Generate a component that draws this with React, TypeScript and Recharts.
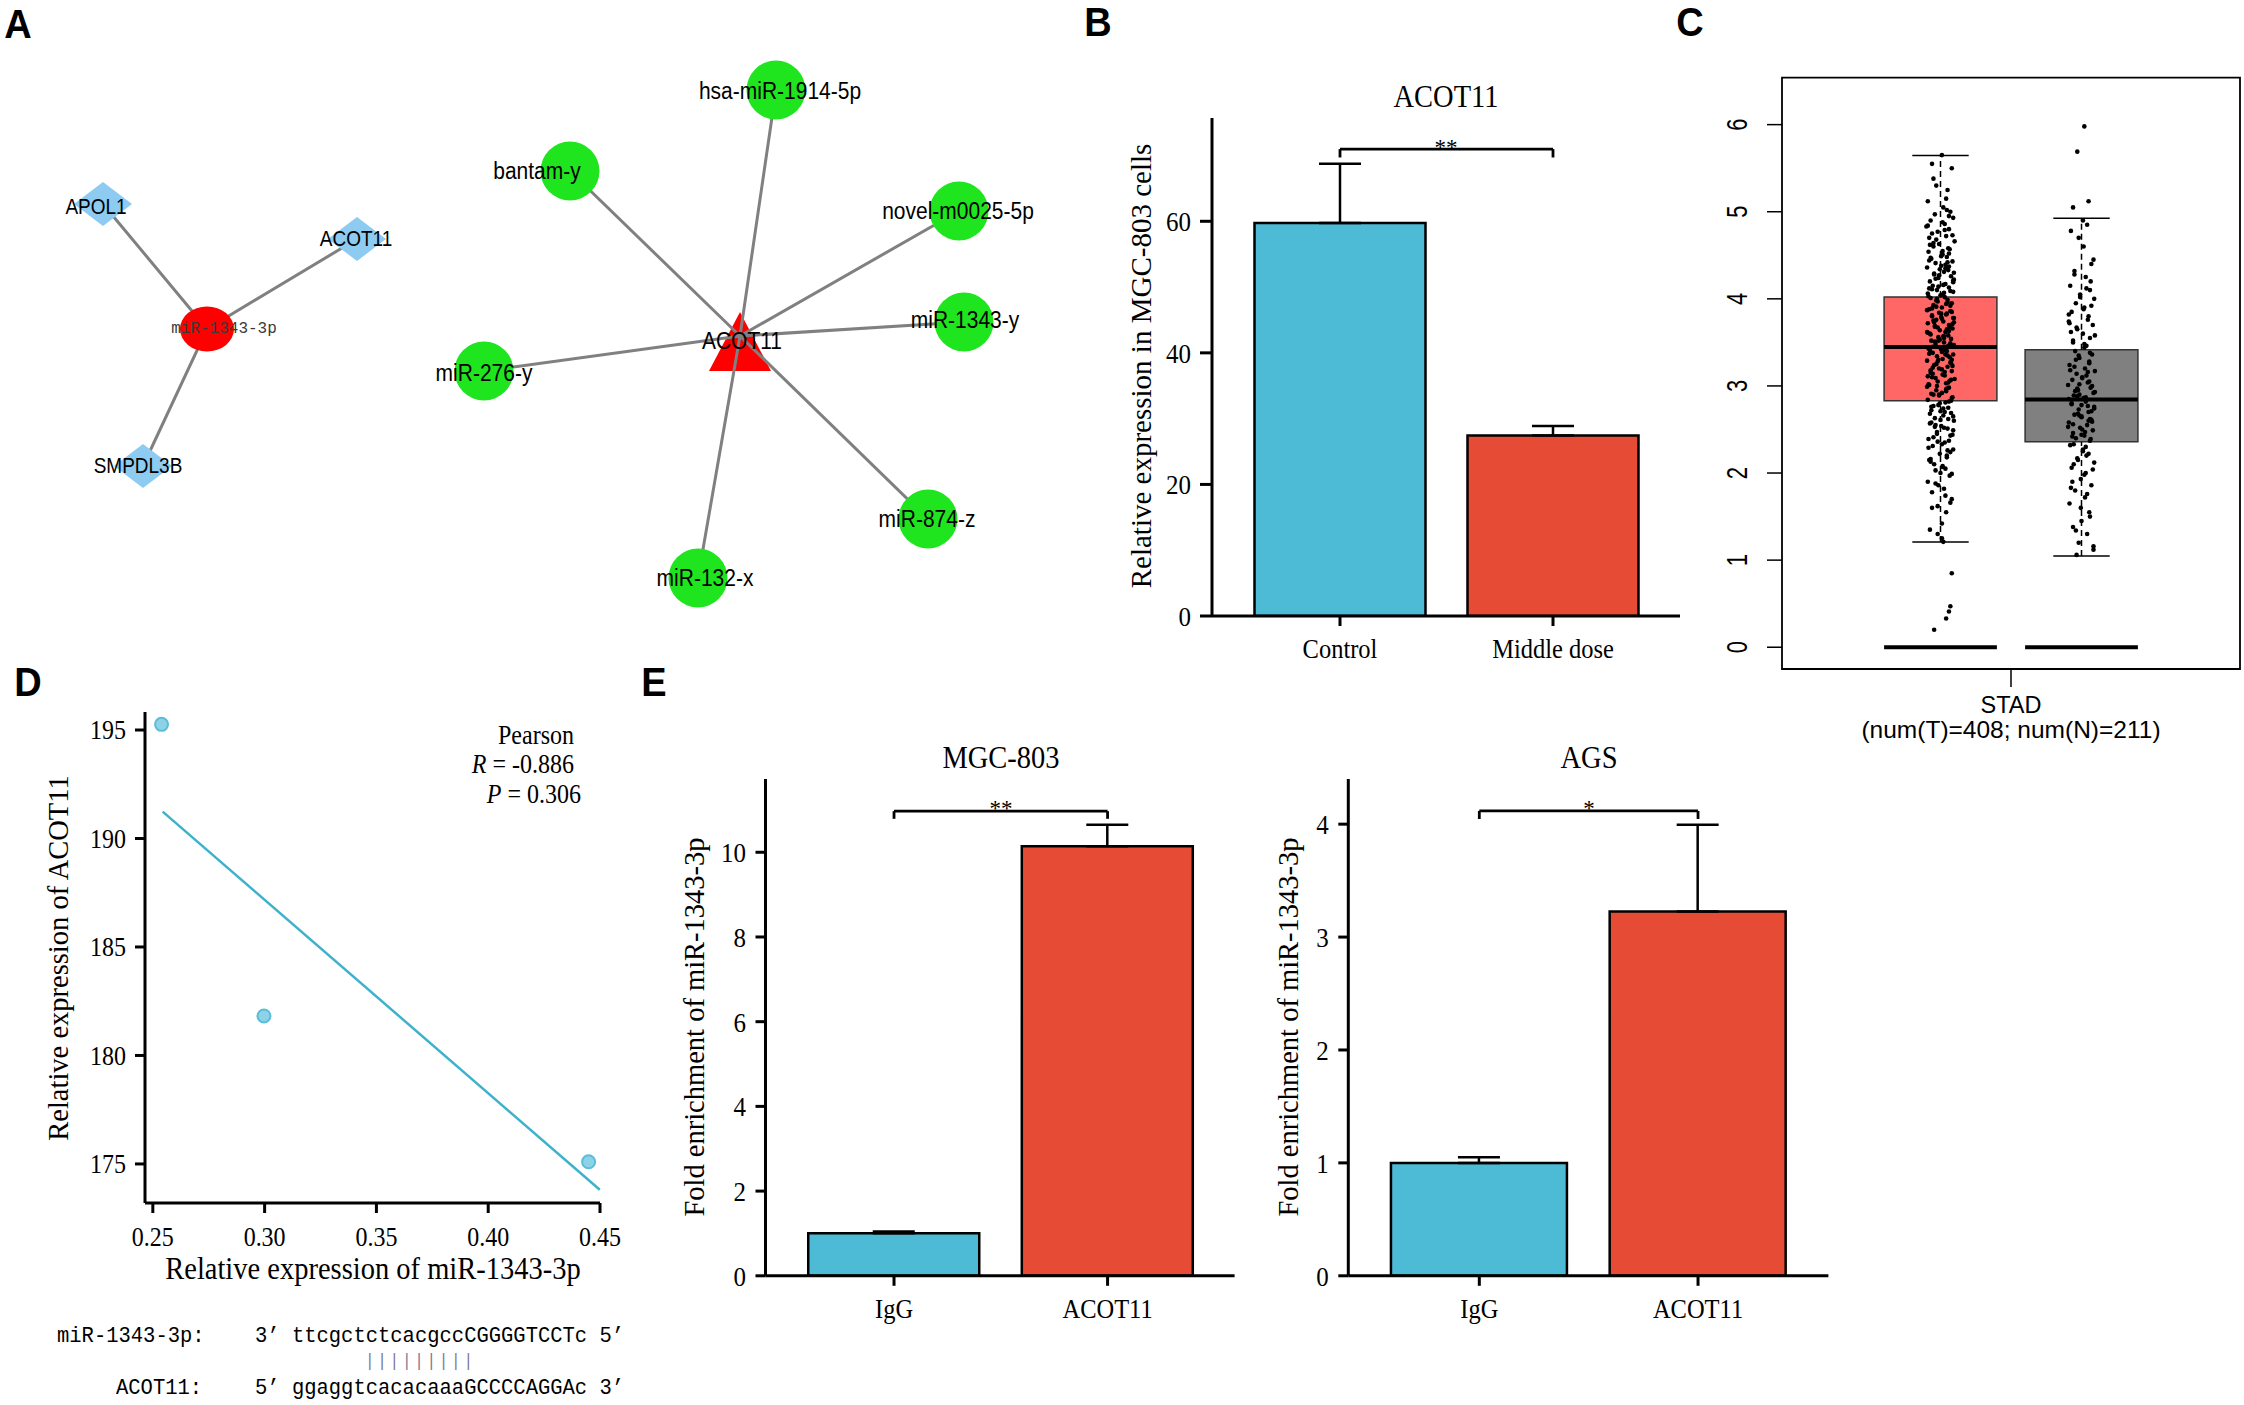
import React from 'react';
import {
  ScatterChart, Scatter, XAxis, YAxis, ReferenceLine, ReferenceArea,
  BarChart, Bar, ErrorBar, Cell,
} from 'recharts';

const SERIF = '"Liberation Serif", "Times New Roman", serif';
const SANS = '"Liberation Sans", Arial, sans-serif';
const MONO = '"Liberation Mono", "Courier New", monospace';
const NPG_BLUE = '#4DBBD5';
const NPG_RED = '#E64B35';
const EDGE = '#808080';

// ---------- Panel A: networks (layout coordinates of the graph) ----------
const geneNetNames = ['miR-1343-3p', 'APOL1', 'ACOT11', 'SMPDL3B'];
const geneNetKind = ['mirna', 'gene', 'gene', 'gene'];
const geneNetX = [207, 103, 357, 143];
const geneNetY = [329, 204, 239, 466];
const geneNetLabelDx = [17, -7, -1, -5];
const geneNetLabelDy = [-1, 3, 0, 0];

const mirNetNames = ['ACOT11', 'hsa-miR-1914-5p', 'bantam-y', 'novel-m0025-5p', 'miR-1343-y', 'miR-276-y', 'miR-874-z', 'miR-132-x'];
const mirNetKind = ['hub', 'mir', 'mir', 'mir', 'mir', 'mir', 'mir', 'mir'];
const mirNetX = [740, 776, 570, 959, 964, 484, 928, 698];
const mirNetY = [336, 90, 171, 211, 322, 371, 519, 578];
const mirNetLabelDx = [2, 4, -33, -1, 1, 0, -1, 7];
const mirNetLabelDy = [5, 1, 0, 0, -2, 2, 0, 0];

// ---------- Panel B ----------
const bTitle = 'ACOT11';
const bCategories = ['Control', 'Middle dose'];
const bMeans = [59.75, 27.44];
const bErrors = [9.0, 1.45];
const bTicks = [0, 20, 40, 60];
const bBracket = [70.97, 69.7];

// ---------- Panel C ----------
const cCohort = 'STAD';
const cCounts = '(num(T)=408; num(N)=211)';
const cPos = [1, 2];
const cQ1 = [2.83, 2.36];
const cMedian = [3.446, 2.843];
const cQ3 = [4.02, 3.416];
const cWhiskLo = [1.209, 1.046];
const cWhiskHi = [5.646, 4.925];
const cTicks = [0, 1, 2, 3, 4, 5, 6];

const tumorExpr = [
  5.65, 5.55, 5.5, 5.3, 5.25, 5.12, 5.05, 5.0, 4.97, 4.93, 4.9, 4.86, 4.83, 4.8, 4.77, 4.72, 4.7, 4.66, 4.63, 4.6, 4.57, 4.54, 4.51,
  4.48, 4.46, 4.43, 4.41, 4.38, 4.36, 4.33, 4.31, 4.29, 4.26, 4.24, 4.22, 4.2, 4.17, 4.15, 4.13, 4.1, 4.08, 4.06, 4.04, 4.02, 4.01,
  3.99, 3.97, 3.95, 3.93, 3.9, 3.88, 3.86, 3.84, 3.82, 3.8, 3.78, 3.76, 3.74, 3.72, 3.7, 3.68, 3.66, 3.64, 3.62, 3.6, 3.58, 3.56, 3.54, 3.52, 3.5,
  3.48, 3.46, 3.44, 3.42, 3.4, 3.38, 3.36, 3.34, 3.31, 3.29, 3.27, 3.24, 3.22, 3.2, 3.17, 3.15, 3.12, 3.1, 3.08, 3.05, 3.03, 3.01,
  2.98, 2.95, 2.92, 2.9, 2.87, 2.84, 2.81, 2.78, 2.75, 2.72, 2.69, 2.66, 2.63, 2.6, 2.57, 2.54, 2.51,
  2.47, 2.43, 2.39, 2.35, 2.31, 2.27, 2.22, 2.18, 2.13, 2.08, 2.03,
  1.97, 1.9, 1.82, 1.78, 1.7, 1.62, 1.55, 1.35, 1.25, 1.21,
  0.85, 0.47, 0.41, 0.33, 0.2,
  4.58, 4.44, 4.35, 4.27, 4.19, 4.11, 4.05, 3.98, 3.92, 3.87, 3.83, 3.79, 3.75, 3.71, 3.67, 3.63, 3.59, 3.55, 3.51, 3.47,
  3.43, 3.39, 3.35, 3.3, 3.26, 3.21, 3.16, 3.11, 3.06, 3.0, 2.96, 2.91, 2.86, 2.8, 2.74, 2.68, 2.62, 2.55, 2.49, 2.41,
  2.33, 2.24, 2.15, 2.05, 4.75, 4.88, 5.02, 4.68, 4.52, 4.39,
  4.62, 4.49, 4.37, 4.28, 4.21, 4.14, 4.07, 4.03, 3.96, 3.91, 3.85, 3.81, 3.77, 3.73, 3.69, 3.65, 3.61, 3.57, 3.53, 3.49,
  3.45, 3.41, 3.37, 3.33, 3.28, 3.23, 3.18, 3.13, 3.09, 3.04, 2.99, 2.94, 2.89, 2.83, 2.77, 2.71, 2.65, 2.58, 2.52, 2.45,
  2.37, 2.29, 2.2, 2.1, 1.99, 1.86, 1.74, 1.6, 1.42, 1.3,
  4.95, 4.84, 4.79, 4.73, 4.64, 4.55, 4.47, 4.42, 4.34, 4.3, 4.23, 4.16, 4.12, 4.09, 4.0, 3.94, 3.89, 3.83, 3.78, 3.73,
  3.68, 3.62, 3.57, 3.52, 3.46, 3.41, 3.36, 3.3, 3.25, 3.19, 3.14, 3.07, 3.02, 2.97, 2.9, 2.82, 2.76, 2.7, 2.61, 2.53,
  2.44, 2.36, 2.26, 2.16, 2.07, 5.15, 5.38, 1.66, 1.88, 2.0,
];
const tumorJitter = [
  0.1, -0.6, 0.8, -0.3, 0.5, -0.9, 0.2, 0.7, -0.4, 0.9, -0.7, 0.3, -1, 0.6, -0.2, 0.4, -0.8, 1, -0.1, -0.5, 0.65, -0.85, 0.15,
  0.45, -0.65, 0.85, -0.35, 0.05, -0.95, 0.55, 0.25, -0.45, 0.75, -0.15, 0.95, -0.75, 0.35, -0.55, 0.6, -0.25, 0.9, -0.9, 0.0, 0.3,
  -0.7, 0.5, -0.2, 0.8, -0.5, 0.1, -0.8, 0.7, -0.1, 0.4, -0.6, 0.95, -0.3, 0.2, -0.9, 0.6, -0.4, 0.85, -0.05, 0.35, -0.75, 0.55, -0.15, 0.75, -0.65,
  0.25, -0.35, 0.65, -0.85, 0.05, 0.45, -0.55, 0.9, -0.25, 0.15, -0.95, 0.7, -0.45, 0.5, -0.1, 0.8, -0.7, 0.3, -0.6, 1, -0.2, 0.4,
  -0.8, 0.6, -0.3, 0.1, -0.5, 0.85, -0.9, 0.35, -0.15, 0.55, -0.65, 0.75, 0.2, -0.4, 0.95, -0.75, 0.05,
  0.5, -0.25, 0.7, -0.85, 0.3, -0.55, 0.9, -0.05, 0.45, -0.7, 0.15,
  -0.35, 0.65, -0.9, 0.25, -0.6, 0.8, -0.2, 0.4, -0.75, 0.1,
  0.2, 0.8, 0.7, 0.6, 0.4,
  -0.45, 0.55, -0.8, 0.35, -0.1, 0.9, -0.6, 0.15, -0.3, 0.7, -0.95, 0.45, 0.05, -0.5, 0.85, -0.2, 0.6, -0.7, 0.25, -0.4,
  0.95, -0.85, 0.1, 0.5, -0.15, 0.75, -0.55, 0.3, -0.9, 0.65, -0.25, 0.4, -0.65, 0.8, -0.05, 0.2, -0.75, 0.55, -0.35, 0.9,
  -0.5, 0.1, 0.7, -0.8, 0.35, -0.6, 0.15, 0.45, -0.3, 0.6,
  0.35, -0.75, 0.05, 0.6, -0.45, 0.9, -0.15, 0.25, -0.85, 0.5, -0.3, 0.8, -0.6, 0.1, 0.95, -0.4, 0.45, -0.9, 0.2, -0.05,
  0.7, -0.55, 0.3, -0.8, 0.65, -0.2, 0.85, -0.7, 0.15, -0.35, 0.55, -0.95, 0.4, -0.1, 0.75, -0.5, 0.0, 0.9, -0.65, 0.25,
  -0.25, 0.6, -0.85, 0.45, -0.45, 0.8, -0.15, 0.35, -0.6, 0.1,
  -0.2, 0.6, -0.9, 0.3, 0.85, -0.5, 0.15, -0.7, 0.5, -0.05, 0.95, -0.35, 0.2, -0.8, 0.7, -0.25, 0.4, -0.6, 0.05, 0.9,
  -0.45, 0.65, -0.95, 0.25, -0.15, 0.55, -0.75, 0.35, 0.8, -0.3, 0.1, -0.55, 0.75, -0.85, 0.45, -0.1, 0.6, -0.65, 0.3, 0.0,
  -0.4, 0.85, -0.2, 0.5, -0.7, 0.15, 0.4, -0.5, 0.7, -0.35,
];
const normalExpr = [
  5.98, 5.69, 5.12, 5.05, 4.9, 4.85, 4.7, 4.4, 4.32, 4.25, 4.15, 4.1, 4.05, 4.0, 3.95, 3.9, 3.85, 3.8, 3.74, 3.7, 3.65, 3.6, 3.55, 3.5, 3.46,
  3.4, 3.36, 3.32, 3.28, 3.24, 3.2, 3.17, 3.14, 3.1, 3.07, 3.04, 3.01, 2.98, 2.95, 2.92, 2.89, 2.86,
  2.82, 2.79, 2.76, 2.73, 2.7, 2.67, 2.64, 2.61, 2.58, 2.55, 2.52, 2.49, 2.46, 2.43, 2.4, 2.37,
  2.32, 2.27, 2.22, 2.17, 2.12, 2.06, 2.0, 1.93, 1.86, 1.8, 1.72, 1.65, 1.55, 1.45, 1.38, 1.3, 1.2, 1.12, 1.06,
  3.88, 3.62, 3.38, 3.22, 3.12, 3.02, 2.93, 2.85, 2.77, 2.68, 2.59, 2.5, 2.42, 2.3, 2.1, 1.98, 4.2, 3.3, 2.88, 2.62,
  4.78, 4.6, 4.45, 4.28, 4.12, 4.02, 3.92, 3.82, 3.76, 3.67, 3.58, 3.52, 3.44, 3.35, 3.26, 3.18, 3.09, 3.0, 2.94, 2.87,
  2.8, 2.74, 2.66, 2.6, 2.53, 2.47, 2.39, 2.33, 2.25, 2.15, 2.04, 1.9, 1.76, 1.6, 1.5, 1.34, 1.16, 3.72, 3.48, 3.16,
  2.97, 2.71, 2.56, 2.44, 2.2, 1.83, 3.05, 2.9, 2.78, 2.65,
];
const normalJitter = [
  0.2, -0.3, 0.5, -0.6, 0.1, 0.4, -0.2, 0.7, -0.5, 0.3, -0.8, 0.6, -0.1, 0.9, -0.4, 0.2, -0.7, 0.5, -0.9, 0.8, -0.3, 0.1, 0.6, -0.6, 0.35,
  -0.45, 0.75, -0.15, 0.55, -0.85, 0.25, 0.95, -0.35, 0.05, -0.65, 0.45, -0.95, 0.65, -0.25, 0.85, -0.55, 0.15,
  0.3, -0.7, 0.9, -0.2, 0.5, -0.5, 0.0, 0.7, -0.9, 0.4, -0.1, 0.8, -0.6, 0.2, -0.4, 0.6,
  -0.8, 0.1, 0.5, -0.3, 0.9, -0.7, 0.3, -0.05, 0.7, -0.45, 0.25, -0.85, 0.55, 0.0, -0.6, 0.4, -0.2,
  0.85, -0.35, 0.15, -0.75, 0.6, -0.5, 0.35, -0.15, 0.95, -0.9, 0.45, -0.25, 0.75, 0.05, -0.65, 0.3, -0.55, 0.2, 0.65, -0.4,
  -0.3, 0.6, -0.75, 0.15, 0.85, -0.5, 0.35, -0.1, 0.7, -0.9, 0.45, -0.35, 0.95, -0.6, 0.2, -0.2, 0.55, -0.8, 0.05, 0.75,
  -0.45, 0.3, -0.7, 0.9, -0.15, 0.5, -0.95, 0.25, 0.65, -0.55, 0.1, -0.25, 0.8, -0.65, 0.4, -0.05, 0.6, -0.4, 0.85, -0.85,
  0.2, 0.45, -0.3, 0.7, -0.6, 0.0, 0.35, -0.75, 0.55, -0.15,
];

// ---------- Panel D ----------
const dMirExpr = [0.2539, 0.2997, 0.4449];
const dAcotExpr = [195.26, 181.82, 175.1];
const dFitX = [0.2544, 0.4499];
const dFitY = [191.24, 173.81];
const dXTicks = [0.25, 0.3, 0.35, 0.4, 0.45];
const dYTicks = [175, 180, 185, 190, 195];
const dStats = ['Pearson', '-0.886', '0.306'];
const seqMirName = 'miR-1343-3p:';
const seqMir = '3’ ttcgctctcacgccCGGGGTCCTc 5’';
const seqPairs = '|||||||||';
const seqGeneName = 'ACOT11:';
const seqGene = '5’ ggaggtcacacaaaGCCCCAGGAc 3’';

// ---------- Panel E ----------
const eCategories = ['IgG', 'ACOT11'];
const eMgcTitle = 'MGC-803';
const eMgcMeans = [1.003, 10.14];
const eMgcErrors = [0.04, 0.51];
const eMgcTicks = [0, 2, 4, 6, 8, 10];
const eMgcBracket = [10.97, 10.79];
const eAgsTitle = 'AGS';
const eAgsMeans = [0.999, 3.227];
const eAgsErrors = [0.05, 0.768];
const eAgsTicks = [0, 1, 2, 3, 4];
const eAgsBracket = [4.117, 4.046];

// ---------- helpers ----------
function Txt({ x, y, children, size = 24, family = SERIF, rotate = 0, anchor = 'middle', weight = 400, sy = 1, color = '#000', spacing = 0 }: any) {
  const tx = anchor === 'middle' ? '-50%' : anchor === 'end' ? '-100%' : '0%';
  return (
    <div
      style={{
        position: 'absolute', left: x, top: y,
        transform: `translate(${tx}, -50%) rotate(${rotate}deg) scale(1, ${sy})`,
        transformOrigin: anchor === 'end' ? '100% 50%' : anchor === 'start' ? '0% 50%' : '50% 50%',
        fontSize: size, fontFamily: family, fontWeight: weight, letterSpacing: spacing,
        whiteSpace: 'pre', lineHeight: 1, color,
      }}
    >
      {children}
    </div>
  );
}

const Empty = () => <g />;

function makeXTick(fs: number, family: string, sy: number, fmt?: (v: any) => string) {
  return (props: any) => (
    <g transform={`translate(${props.x},${props.y}) scale(1,${sy})`}>
      <text x={0} y={0} dy="0.71em" textAnchor="middle" fontSize={fs} fontFamily={family} fill="#000">
        {fmt ? fmt(props.payload.value) : props.payload.value}
      </text>
    </g>
  );
}
function makeYTick(fs: number, family: string, sy: number) {
  return (props: any) => (
    <g transform={`translate(${props.x},${props.y}) scale(1,${sy})`}>
      <text x={0} y={0} dy="0.355em" textAnchor="end" fontSize={fs} fontFamily={family} fill="#000">
        {props.payload.value}
      </text>
    </g>
  );
}

function NodeShape(props: any) {
  const { cx, cy, payload } = props;
  if (cx == null || cy == null) return <g />;
  switch (payload.kind) {
    case 'gene':
      return <polygon points={`${cx},${cy - 22} ${cx + 29},${cy} ${cx},${cy + 22} ${cx - 29},${cy}`} fill="#8DCBF0" />;
    case 'mirna':
      return <ellipse cx={cx} cy={cy} rx={27} ry={22.5} fill="#FF0000" />;
    case 'hub':
      return <polygon points={`${cx},${cy - 24} ${cx + 31},${cy + 35} ${cx - 31},${cy + 35}`} fill="#FF0000" />;
    default:
      return <circle cx={cx} cy={cy} r={29.5} fill="#1FE51F" />;
  }
}

function NodeLabel(props: any) {
  const { cx, cy, payload } = props;
  if (cx == null || cy == null) return <g />;
  const mir = payload.kind === 'mirna';
  return (
    <g transform={`translate(${cx + payload.dx},${cy + payload.dy}) scale(1,${mir ? 1.05 : 1.12})`}>
      <text
        x={0} y={0}
        textAnchor="middle" dominantBaseline="central"
        fontSize={mir ? 16 : payload.fs} fontFamily={mir ? MONO : SANS}
        fill={mir ? '#3a3a3a' : '#000'}
      >
        {payload.name}
      </text>
    </g>
  );
}

function PanelA() {
  const left = geneNetNames.map((n, i) => ({ name: n, kind: geneNetKind[i], x: geneNetX[i], y: geneNetY[i], dx: geneNetLabelDx[i], dy: geneNetLabelDy[i], fs: 19 }));
  const right = mirNetNames.map((n, i) => ({ name: n, kind: mirNetKind[i], x: mirNetX[i], y: mirNetY[i], dx: mirNetLabelDx[i], dy: mirNetLabelDy[i], fs: 21 }));
  const leftEdges = left.slice(1).flatMap((n) => [left[0], n]);
  const rightEdges = right.slice(1).flatMap((n) => [right[0], n]);
  return (
    <div style={{ position: 'absolute', left: 0, top: 0 }}>
      <ScatterChart width={1080} height={640} margin={{ top: 0, right: 0, bottom: 0, left: 0 }}>
        <XAxis type="number" dataKey="x" domain={[0, 1080]} allowDataOverflow hide />
        <YAxis type="number" dataKey="y" domain={[0, 640]} allowDataOverflow reversed hide width={0} />
        <Scatter data={leftEdges} line={{ stroke: EDGE, strokeWidth: 3 }} stroke={EDGE} shape={Empty} isAnimationActive={false} />
        <Scatter data={left} shape={NodeShape} isAnimationActive={false} />
        <Scatter data={[right[0]]} shape={NodeShape} isAnimationActive={false} />
        <Scatter data={rightEdges} line={{ stroke: EDGE, strokeWidth: 3 }} stroke={EDGE} shape={Empty} isAnimationActive={false} />
        <Scatter data={right.slice(1)} shape={NodeShape} isAnimationActive={false} />
        <Scatter data={[...left, ...right]} shape={NodeLabel} isAnimationActive={false} />
      </ScatterChart>
    </div>
  );
}

const barXTick = makeXTick(24.5, SERIF, 1.12);
const barYTick = makeYTick(25, SERIF, 1.12);

function BarPanel(p: any) {
  const data = p.cats.map((c: string, i: number) => ({ name: c, value: p.means[i], err: [0, p.errs[i]] }));
  const axisStyle = { stroke: '#000', strokeWidth: 3 };
  const [top, low] = p.bracket;
  return (
    <div style={{ position: 'absolute', left: p.left, top: p.top }}>
      <BarChart width={p.width} height={p.height} data={data} margin={{ top: p.marginTop, right: 20, bottom: 10, left: 0 }}>
        <XAxis dataKey="name" type="category" interval={0} padding={{ left: p.padL, right: p.padR }}
          axisLine={axisStyle} tickLine={axisStyle} tickSize={10} tickMargin={13} height={60} tick={barXTick} />
        <YAxis type="number" domain={[0, p.domainMax]} allowDataOverflow ticks={p.ticks} width={p.yWidth}
          axisLine={axisStyle} tickLine={axisStyle} tickSize={p.tickSize} tickMargin={p.tickMargin} tick={barYTick} />
        <Bar dataKey="value" barSize={p.barSize} stroke="#000" strokeWidth={2.5} isAnimationActive={false}>
          {data.map((d: any, i: number) => <Cell key={d.name} fill={i === 0 ? NPG_BLUE : NPG_RED} />)}
          <ErrorBar dataKey="err" direction="y" width={21} stroke="#000" strokeWidth={2.5} isAnimationActive={false} />
        </Bar>
        <ReferenceLine ifOverflow="visible" segment={[{ x: p.cats[0], y: low }, { x: p.cats[0], y: top }]} stroke="#000" strokeWidth={2.8} />
        <ReferenceLine ifOverflow="visible" segment={[{ x: p.cats[0], y: top }, { x: p.cats[1], y: top }]} stroke="#000" strokeWidth={2.8} />
        <ReferenceLine ifOverflow="visible" segment={[{ x: p.cats[1], y: low }, { x: p.cats[1], y: top }]} stroke="#000" strokeWidth={2.8} />
      </BarChart>
    </div>
  );
}

const Dot = (props: any) => (props.cx == null ? <g /> : <circle cx={props.cx} cy={props.cy} r={2.3} fill="#000" />);

const CXTick = (props: any) => (
  <g>
    <text x={props.x} y={props.y} dy={23.5} textAnchor="middle" fontSize={23.5} fontFamily={SANS} fill="#000">{cCohort}</text>
    <text x={props.x} y={props.y} dy={49} textAnchor="middle" fontSize={24.5} fontFamily={SANS} fill="#000">{cCounts}</text>
  </g>
);

const CYTick = (props: any) => (
  <g transform={`translate(${props.x - 18}, ${props.y}) rotate(-90) scale(1, 1.3)`}>
    <text x={0} y={0} textAnchor="middle" fontSize={22} fontFamily={SANS} fill="#000">{props.payload.value}</text>
  </g>
);

function PanelC() {
  const JIT = 0.1;
  const tumorPts = tumorExpr.map((v, i) => ({ x: cPos[0] + (tumorJitter[i] ?? 0) * JIT, y: v }));
  const normalPts = normalExpr.map((v, i) => ({ x: cPos[1] + (normalJitter[i] ?? 0) * JIT, y: v }));
  const fills = ['#FF6666', '#808080'];
  const BOX = 0.4;
  const CAP = 0.2;
  return (
    <div style={{ position: 'absolute', left: 1712, top: 40 }}>
      <ScatterChart width={530} height={709} margin={{ top: 37.6, right: 2, bottom: 0, left: 0 }}>
        <XAxis type="number" dataKey="x" domain={[-0.124, 3.124]} allowDataOverflow ticks={[1.5]} tick={CXTick}
          tickSize={18} tickMargin={2} axisLine={false} tickLine={{ stroke: '#000', strokeWidth: 1.5 }} height={80} />
        <YAxis type="number" dataKey="y" domain={[-0.25, 6.54]} allowDataOverflow ticks={cTicks} tick={CYTick}
          tickSize={15} tickMargin={2} axisLine={false} tickLine={{ stroke: '#000', strokeWidth: 1.5 }} width={70} />
        <ReferenceArea x1={-0.124} x2={3.124} y1={-0.25} y2={6.54} fill="none" stroke="#000" strokeWidth={1.8} ifOverflow="visible" />
        {cPos.map((c, i) => (
          <ReferenceArea key={`box${i}`} x1={c - BOX} x2={c + BOX} y1={cQ1[i]} y2={cQ3[i]} fill={fills[i]} fillOpacity={1} stroke="#333" strokeWidth={1.5} ifOverflow="visible" />
        ))}
        {cPos.map((c, i) => (
          <ReferenceLine key={`wh${i}`} segment={[{ x: c, y: cQ3[i] }, { x: c, y: cWhiskHi[i] }]} stroke="#000" strokeWidth={1.5} strokeDasharray="6 4" ifOverflow="visible" />
        ))}
        {cPos.map((c, i) => (
          <ReferenceLine key={`wl${i}`} segment={[{ x: c, y: cWhiskLo[i] }, { x: c, y: cQ1[i] }]} stroke="#000" strokeWidth={1.5} strokeDasharray="6 4" ifOverflow="visible" />
        ))}
        {cPos.map((c, i) => (
          <ReferenceLine key={`ch${i}`} segment={[{ x: c - CAP, y: cWhiskHi[i] }, { x: c + CAP, y: cWhiskHi[i] }]} stroke="#000" strokeWidth={1.5} ifOverflow="visible" />
        ))}
        {cPos.map((c, i) => (
          <ReferenceLine key={`cl${i}`} segment={[{ x: c - CAP, y: cWhiskLo[i] }, { x: c + CAP, y: cWhiskLo[i] }]} stroke="#000" strokeWidth={1.5} ifOverflow="visible" />
        ))}
        {cPos.map((c, i) => (
          <ReferenceLine key={`md${i}`} segment={[{ x: c - BOX, y: cMedian[i] }, { x: c + BOX, y: cMedian[i] }]} stroke="#000" strokeWidth={4} ifOverflow="visible" />
        ))}
        {cPos.map((c, i) => (
          <ReferenceLine key={`z${i}`} segment={[{ x: c - BOX, y: 0 }, { x: c + BOX, y: 0 }]} stroke="#000" strokeWidth={4} ifOverflow="visible" />
        ))}
        <Scatter data={tumorPts} shape={Dot} isAnimationActive={false} />
        <Scatter data={normalPts} shape={Dot} isAnimationActive={false} />
      </ScatterChart>
    </div>
  );
}

const DPoint = (props: any) => (props.cx == null ? <g /> : <circle cx={props.cx} cy={props.cy} r={6.5} fill="#8CD3E8" stroke="#5CBDD8" strokeWidth={2} />);
const dXTick = makeXTick(24, SERIF, 1.1, (v: number) => v.toFixed(2));
const dYTick = makeYTick(24, SERIF, 1.1);

function PanelD() {
  const pts = dMirExpr.map((x, i) => ({ x, y: dAcotExpr[i] }));
  const axisStyle = { stroke: '#000', strokeWidth: 3 };
  return (
    <div style={{ position: 'absolute', left: 0, top: 680 }}>
      <ScatterChart width={630} height={583} margin={{ top: 32, right: 30, bottom: 0, left: 0 }}>
        <XAxis type="number" dataKey="x" domain={[0.2465, 0.45]} allowDataOverflow ticks={dXTicks}
          axisLine={axisStyle} tickLine={axisStyle} tickSize={10} tickMargin={14} height={60} tick={dXTick} />
        <YAxis type="number" dataKey="y" domain={[173.2, 195.83]} allowDataOverflow ticks={dYTicks}
          axisLine={axisStyle} tickLine={axisStyle} tickSize={10} tickMargin={9} width={145} tick={dYTick} />
        <ReferenceLine ifOverflow="visible" segment={[{ x: dFitX[0], y: dFitY[0] }, { x: dFitX[1], y: dFitY[1] }]} stroke="#3EB1CB" strokeWidth={2.5} />
        <Scatter data={pts} shape={DPoint} isAnimationActive={false} />
      </ScatterChart>
    </div>
  );
}

export default function App() {
  return (
    <div style={{ position: 'absolute', left: 0, top: 0, width: 2244, height: 1405, overflow: 'hidden', background: '#fff' }}>
      <PanelA />
      <BarPanel left={1100} top={40} width={600} height={646} marginTop={78} yWidth={112}
        cats={bCategories} means={bMeans} errs={bErrors} domainMax={75.7} ticks={bTicks}
        padL={21.5} padR={20.5} barSize={171} bracket={bBracket} tickSize={12} tickMargin={9} />
      <PanelC />
      <PanelD />
      <BarPanel left={650} top={700} width={604.6} height={645.8} marginTop={79} yWidth={115.5}
        cats={eCategories} means={eMgcMeans} errs={eMgcErrors} domainMax={11.73} ticks={eMgcTicks}
        padL={21.75} padR={20.25} barSize={171} bracket={eMgcBracket} tickSize={10} tickMargin={9.5} />
      <BarPanel left={1250} top={700} width={598.4} height={645.8} marginTop={79} yWidth={98.3}
        cats={eCategories} means={eAgsMeans} errs={eAgsErrors} domainMax={4.40} ticks={eAgsTicks}
        padL={21.65} padR={21} barSize={176} bracket={eAgsBracket} tickSize={10} tickMargin={9.5} />

      {/* panel letters */}
      <Txt x={18} y={24} size={38} family={SANS} weight={700} sy={1.05}>A</Txt>
      <Txt x={1098} y={22} size={38} family={SANS} weight={700} sy={1.05}>B</Txt>
      <Txt x={1690} y={22} size={38} family={SANS} weight={700} sy={1.05}>C</Txt>
      <Txt x={28} y={682} size={38} family={SANS} weight={700} sy={1.05}>D</Txt>
      <Txt x={654} y={682} size={38} family={SANS} weight={700} sy={1.05}>E</Txt>

      {/* panel B text */}
      <Txt x={1446} y={97} size={28.5} sy={1.1}>{bTitle}</Txt>
      <Txt x={1446} y={147} size={23}>**</Txt>
      <Txt x={1141} y={366} size={29} rotate={-90}>Relative expression in MGC-803 cells</Txt>

      {/* panel D text */}
      <Txt x={59} y={958} size={28.5} rotate={-90}>Relative expression of ACOT11</Txt>
      <Txt x={373} y={1269} size={28.5} sy={1.1}>Relative expression of miR-1343-3p</Txt>
      <Txt x={574} y={735} size={24} anchor="end" sy={1.1}>{dStats[0]}</Txt>
      <Txt x={574} y={764} size={24} anchor="end" sy={1.1}><i>R</i> = {dStats[1]}</Txt>
      <Txt x={581} y={794} size={24} anchor="end" sy={1.1}><i>P</i> = {dStats[2]}</Txt>
      <Txt x={57} y={1337} size={20.5} family={MONO} anchor="start" sy={1.08}>{seqMirName}</Txt>
      <Txt x={255} y={1337} size={20.5} family={MONO} anchor="start" sy={1.08}>{seqMir}</Txt>
      <Txt x={365} y={1361} size={16} family={MONO} anchor="start" color="#7a7a96" sy={1.2} spacing={2.7}>{seqPairs}</Txt>
      <Txt x={116} y={1389} size={20.5} family={MONO} anchor="start" sy={1.08}>{seqGeneName}</Txt>
      <Txt x={255} y={1389} size={20.5} family={MONO} anchor="start" sy={1.08}>{seqGene}</Txt>

      {/* panel E text */}
      <Txt x={1001} y={758} size={28.5} sy={1.1}>{eMgcTitle}</Txt>
      <Txt x={1001} y={808} size={23}>**</Txt>
      <Txt x={695} y={1027} size={28.5} rotate={-90}>Fold enrichment of miR-1343-3p</Txt>
      <Txt x={1589} y={758} size={28.5} sy={1.1}>{eAgsTitle}</Txt>
      <Txt x={1589} y={808} size={23}>*</Txt>
      <Txt x={1289} y={1027} size={28.5} rotate={-90}>Fold enrichment of miR-1343-3p</Txt>
    </div>
  );
}
